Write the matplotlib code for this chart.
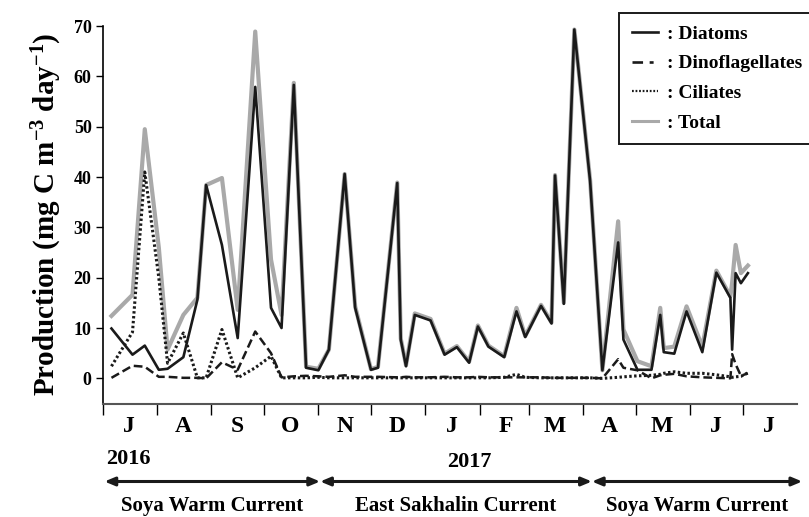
import pandas as pd
import matplotlib.pyplot as plt
import matplotlib.dates as mdates
from matplotlib.lines import Line2D

plt.rcParams["font.family"] = ["Liberation Serif", "DejaVu Serif"]
plt.rcParams["font.weight"] = "bold"
plt.rcParams["mathtext.fontset"] = "custom"
plt.rcParams["mathtext.rm"] = "Liberation Serif:bold"
plt.rcParams["mathtext.bf"] = "Liberation Serif:bold"
plt.rcParams["mathtext.it"] = "Liberation Serif:bold:italic"

# sampling dates and production by group (mg C m-3 day-1)
dates = ["2016-07-06", "2016-07-18", "2016-07-25", "2016-08-02", "2016-08-07",
         "2016-08-16", "2016-08-24", "2016-08-29", "2016-09-07", "2016-09-16",
         "2016-09-26", "2016-10-05", "2016-10-11", "2016-10-18", "2016-10-25",
         "2016-11-01", "2016-11-07", "2016-11-16", "2016-11-22", "2016-12-01",
         "2016-12-05", "2016-12-16", "2016-12-18", "2016-12-21", "2016-12-26",
         "2017-01-04", "2017-01-12", "2017-01-19", "2017-01-26", "2017-01-31",
         "2017-02-06", "2017-02-15", "2017-02-22", "2017-02-27", "2017-03-08",
         "2017-03-14", "2017-03-16", "2017-03-21", "2017-03-27", "2017-04-05",
         "2017-04-12", "2017-04-21", "2017-04-24", "2017-05-02", "2017-05-10",
         "2017-05-15", "2017-05-17", "2017-05-23", "2017-05-30", "2017-06-08",
         "2017-06-16", "2017-06-24", "2017-06-25", "2017-06-27", "2017-06-30",
         "2017-07-04"]

diatoms = [9.9, 4.7, 6.5, 1.7, 1.9, 4.2, 15.6, 38.4, 26.5, 8.0,
           57.9, 14.0, 10.0, 58.3, 2.1, 1.6, 5.7, 40.6, 14.0, 1.7,
           2.1, 38.8, 7.7, 2.4, 12.6, 11.5, 4.7, 6.2, 3.1, 10.3,
           6.3, 4.2, 13.3, 8.2, 14.4, 10.9, 40.3, 14.8, 69.3, 39.2,
           1.6, 27.0, 7.7, 1.7, 1.7, 12.6, 5.2, 4.9, 13.3, 5.2,
           21.0, 16.0, 5.7, 20.9, 18.9, 20.9]

dinoflagellates = [0.1, 2.5, 2.3, 0.3, 0.3, 0.1, 0.1, 0.0, 3.2, 1.7,
                   9.3, 5.0, 0.2, 0.4, 0.5, 0.4, 0.3, 0.6, 0.3, 0.3,
                   0.3, 0.2, 0.2, 0.3, 0.2, 0.2, 0.3, 0.2, 0.2, 0.3,
                   0.2, 0.2, 0.2, 0.2, 0.2, 0.1, 0.1, 0.1, 0.1, 0.1,
                   0.0, 3.8, 2.1, 1.6, 0.0, 0.6, 0.7, 0.9, 0.4, 0.2,
                   0.1, 0.0, 4.8, 2.8, 0.5, 1.0]

ciliates = [2.4, 9.2, 41.0, 20.0, 3.0, 9.0, 0.1, 0.1, 9.7, 0.1,
            2.1, 4.4, 0.1, 0.1, 0.1, 0.2, 0.1, 0.1, 0.1, 0.1,
            0.1, 0.1, 0.1, 0.1, 0.1, 0.1, 0.1, 0.1, 0.1, 0.1,
            0.1, 0.2, 0.8, 0.2, 0.1, 0.1, 0.1, 0.1, 0.1, 0.1,
            0.0, 0.2, 0.3, 0.5, 0.6, 0.8, 1.0, 1.3, 1.0, 1.0,
            0.7, 0.3, 0.2, 0.3, 0.4, 1.1]

total = [12.4, 16.6, 49.5, 26.0, 5.7, 12.6, 16.0, 38.4, 39.8, 13.6,
         68.9, 23.6, 12.6, 58.7, 2.3, 1.9, 5.7, 40.6, 14.3, 1.8,
         2.3, 38.9, 7.9, 2.6, 12.9, 11.8, 4.9, 6.4, 3.3, 10.5,
         6.5, 4.4, 14.0, 8.4, 14.6, 11.1, 40.4, 15.0, 69.3, 39.4,
         1.6, 31.2, 9.7, 3.4, 2.4, 14.0, 6.0, 6.3, 14.3, 6.3,
         21.4, 16.3, 19.0, 26.5, 20.9, 22.4]

month_letters = ["J", "A", "S", "O", "N", "D", "J", "F", "M", "A", "M", "J", "J"]

# current regimes shown under the time axis
regimes = ["Soya Warm Current", "East Sakhalin Current", "Soya Warm Current"]
regime_bounds = ["2016-07-02", "2016-11-02", "2017-04-06", "2017-08-04"]

t = pd.to_datetime(dates)

W, H = 809, 517
AX_TOP, AX_BOT = 26, 403.5
fig = plt.figure(figsize=(W / 100, H / 100), dpi=100)
ax = fig.add_axes([102.7 / W, 1 - AX_BOT / H, (797 - 102.7) / W, (AX_BOT - AX_TOP) / H])

DASH = (3.5, 1.6)
DOT = (0.8, 0.8)
ax.plot(t, total, color="#a9a9a9", lw=3.0, zorder=2)
ax.plot(t, diatoms, color="#1a1a1a", lw=1.9, zorder=3)
ax.plot(t, dinoflagellates, color="#1a1a1a", lw=1.8, dashes=DASH, zorder=4)
ax.plot(t, ciliates, color="#1a1a1a", lw=2.2, dashes=DOT, zorder=4)

ax.set_ylim(-5, 70)
ax.set_yticks(range(0, 71, 10))
ax.set_xlim(pd.Timestamp("2016-07-01"), pd.Timestamp("2017-08-01"))

month_starts = pd.date_range("2016-07-01", "2017-07-01", freq="MS")
mids = [m + pd.Timedelta(days=15) for m in month_starts]
ax.set_xticks(month_starts)
ax.set_xticklabels([])
ax.set_xticks(mids, minor=True)
ax.set_xticklabels(month_letters, minor=True)
ax.tick_params(axis="x", which="major", direction="out", length=8, width=1.0)
ax.tick_params(axis="x", which="minor", length=0, pad=9, labelsize=17)
ax.tick_params(axis="y", direction="out", length=5, width=1.0, labelsize=13, pad=3)

for s in ["top", "right"]:
    ax.spines[s].set_visible(False)
ax.spines["left"].set_linewidth(1.2)
ax.spines["bottom"].set_linewidth(1.5)
ax.spines["bottom"].set_color("#555555")

ax.set_ylabel("Production (mg C m$^{-3}$ day$^{-1}$)",
              fontsize=21, fontweight="bold", labelpad=7)

handles = [
    Line2D([0], [0], color="#1a1a1a", lw=1.9),
    Line2D([0], [0], color="#1a1a1a", lw=1.9, dashes=(4, 2.5, 1.5, 2.5)),
    Line2D([0], [0], color="#1a1a1a", lw=1.6, dashes=(0.8, 0.8)),
    Line2D([0], [0], color="#a9a9a9", lw=2.2),
]
labels = [": Diatoms", ": Dinoflagellates", ": Ciliates", ": Total"]
leg = fig.legend(handles, labels, loc="upper left",
                 bbox_to_anchor=(619 / W, 1 - 12.5 / H), frameon=True,
                 fancybox=False, fontsize=14, handlelength=1.35,
                 handletextpad=0.45, labelspacing=0.62, borderpad=0.65,
                 borderaxespad=0)
leg.get_frame().set_edgecolor("#1a1a1a")
leg.get_frame().set_linewidth(1.4)
leg.get_frame().set_alpha(1)

# year labels and current regimes below the axis
fig.text(106 / W, 1 - 459 / H, "2016", fontsize=16, fontweight="bold",
         ha="left", va="center")
fig.text(469 / W, 1 - 462 / H, "2017", fontsize=16, fontweight="bold",
         ha="center", va="center")

trans = ax.get_xaxis_transform()
xa = [mdates.date2num(pd.Timestamp(b)) for b in regime_bounds]
y_arrow = -(481.5 - AX_BOT) / (AX_BOT - AX_TOP)
for i, name in enumerate(regimes):
    ax.annotate("", xy=(xa[i + 1], y_arrow), xytext=(xa[i], y_arrow),
                xycoords=trans, textcoords=trans, annotation_clip=False,
                arrowprops=dict(arrowstyle="<|-|>,head_length=0.6,head_width=0.25",
                                color="#1a1a1a", lw=2.2, shrinkA=0, shrinkB=0))
    fig.text(ax.transData.transform(((xa[i] + xa[i + 1]) / 2, 0))[0] / W,
             1 - 516 / H, name, fontsize=15, fontweight="bold",
             ha="center", va="bottom")

fig.savefig("out.png", dpi=100)
